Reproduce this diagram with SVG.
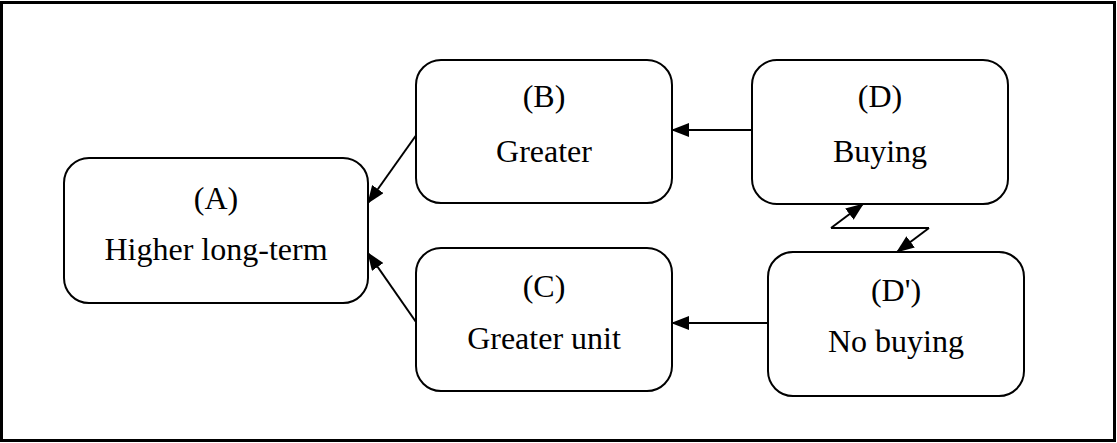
<svg xmlns="http://www.w3.org/2000/svg" width="1117" height="443" viewBox="0 0 1117 443">
  <style>
    .box { fill: #ffffff; stroke: #000000; stroke-width: 2; }
    .lbl { font-family: "Liberation Serif", "Times New Roman", serif; font-size: 32px; fill: #000000; text-anchor: middle; }
    .edge { fill: none; stroke: #000000; stroke-width: 2; }
  </style>
  <defs>
    <marker id="arrow" markerUnits="userSpaceOnUse" markerWidth="18" markerHeight="14" viewBox="0 0 18 14" refX="17" refY="7" orient="auto">
      <path d="M0,0 L18,7 L0,14 Z" fill="#000000"/>
    </marker>
  </defs>

  <rect x="1.5" y="2.5" width="1113" height="438" fill="#ffffff" stroke="#000000" stroke-width="3"/>

  <g id="connectors">
    <line class="edge" x1="417" y1="134" x2="368" y2="203" marker-end="url(#arrow)"/>
    <line class="edge" x1="416" y1="322" x2="368" y2="253" marker-end="url(#arrow)"/>
    <line class="edge" x1="752" y1="130" x2="672" y2="130" marker-end="url(#arrow)"/>
    <line class="edge" x1="768" y1="323" x2="672" y2="323" marker-end="url(#arrow)"/>
    <line class="edge" x1="831" y1="228" x2="863" y2="204" marker-end="url(#arrow)"/>
    <line class="edge" x1="831" y1="228" x2="929" y2="228"/>
    <line class="edge" x1="929" y1="228" x2="897" y2="252" marker-end="url(#arrow)"/>
  </g>

  <g id="node-a">
    <rect class="box" x="64" y="158" width="304" height="145" rx="25" ry="25"/>
    <text class="lbl" x="216" y="209">(A)</text>
    <text class="lbl" x="216" y="260">Higher long-term</text>
  </g>

  <g id="node-b">
    <rect class="box" x="416" y="60" width="256" height="143" rx="25" ry="25"/>
    <text class="lbl" x="544" y="107">(B)</text>
    <text class="lbl" x="544" y="162">Greater</text>
  </g>

  <g id="node-c">
    <rect class="box" x="416" y="248" width="256" height="143" rx="25" ry="25"/>
    <text class="lbl" x="544" y="297">(C)</text>
    <text class="lbl" x="544" y="349">Greater unit</text>
  </g>

  <g id="node-d">
    <rect class="box" x="752" y="60" width="256" height="144" rx="25" ry="25"/>
    <text class="lbl" x="880" y="107">(D)</text>
    <text class="lbl" x="880" y="162">Buying</text>
  </g>

  <g id="node-d-prime">
    <rect class="box" x="768" y="252" width="256" height="144" rx="25" ry="25"/>
    <text class="lbl" x="896" y="301">(D')</text>
    <text class="lbl" x="896" y="352">No buying</text>
  </g>
</svg>
